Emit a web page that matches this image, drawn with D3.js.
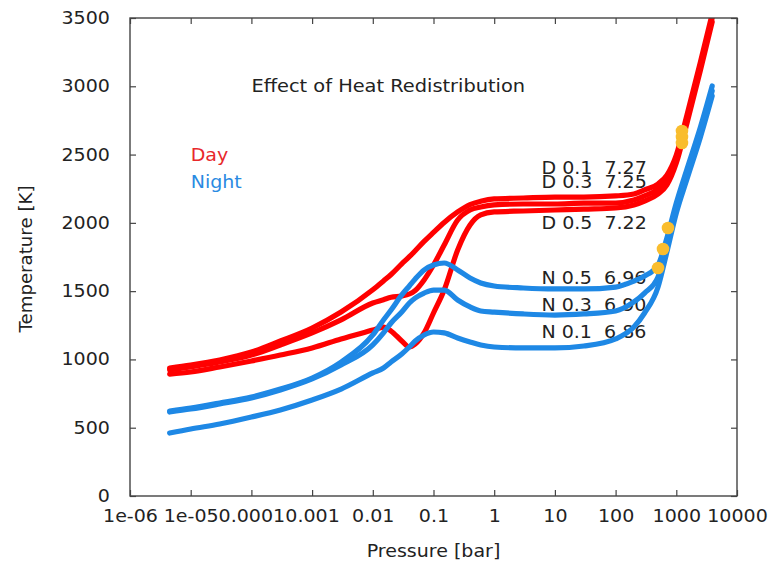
<!DOCTYPE html>
<html><head><meta charset="utf-8">
<script src="https://cdn.jsdelivr.net/npm/d3@7/dist/d3.min.js"></script>
<style>
body{margin:0;background:#fff}
svg{display:block}
text{font-family:"DejaVu Sans",sans-serif;white-space:pre}
</style>
</head><body>
<svg id="chart" width="770" height="562"></svg>
<script>
// ---------------- data ----------------
const pressure = [4.5e-6, 1e-5, 3e-5, 1e-4, 3e-4, 1e-3, 3e-3, 0.01, 0.015, 0.02, 0.03, 0.04, 0.05, 0.07, 0.1, 0.15, 0.25, 0.4, 0.6, 1, 3, 10, 30, 100, 200, 300, 500, 700, 1000, 1500, 2500, 3900];

const dayD01 = [937, 959, 996, 1054, 1135, 1230, 1347, 1510, 1575, 1622, 1700, 1752, 1796, 1864, 1930, 2003, 2080, 2134, 2158, 2175, 2182, 2189, 2189, 2197, 2211, 2241, 2285, 2350, 2497, 2790, 3178, 3529];
const dayD03 = [923, 945, 981, 1032, 1106, 1194, 1289, 1413, 1437, 1455, 1464, 1479, 1505, 1582, 1691, 1838, 2021, 2094, 2116, 2131, 2138, 2138, 2145, 2145, 2167, 2197, 2248, 2314, 2468, 2761, 3149, 3500];
const dayD05 = [893, 908, 945, 989, 1032, 1084, 1150, 1215, 1237, 1208, 1135, 1091, 1113, 1194, 1340, 1508, 1801, 1984, 2058, 2080, 2087, 2094, 2101, 2109, 2131, 2160, 2211, 2277, 2438, 2731, 3119, 3471];

const nightN05 = [622, 644, 681, 725, 783, 864, 981, 1179, 1289, 1362, 1472, 1538, 1589, 1655, 1691, 1706, 1655, 1596, 1560, 1538, 1523, 1516, 1516, 1530, 1574, 1611, 1691, 1889, 2145, 2394, 2702, 3002];
const nightN03 = [615, 637, 674, 718, 776, 857, 959, 1106, 1194, 1267, 1347, 1413, 1450, 1486, 1508, 1508, 1435, 1384, 1355, 1347, 1333, 1325, 1333, 1355, 1421, 1486, 1604, 1845, 2109, 2358, 2665, 2966];
const nightN01 = [461, 491, 527, 578, 630, 703, 783, 901, 937, 981, 1040, 1091, 1135, 1179, 1201, 1194, 1157, 1128, 1106, 1091, 1084, 1084, 1098, 1150, 1237, 1340, 1530, 1787, 2072, 2321, 2629, 2929];

const dotP = [1240, 1240, 1240, 730, 604, 500];
const dotT = [2673, 2629, 2585, 1962, 1809, 1669];

const xTicks = [1e-6, 1e-5, 1e-4, 1e-3, 1e-2, 1e-1, 1, 10, 100, 1000, 10000];
const xTickLabels = ["1e-06", "1e-05", "0.0001", "0.001", "0.01", "0.1", "1", "10", "100", "1000", "10000"];
const yTicks = [0, 500, 1000, 1500, 2000, 2500, 3000, 3500];

const curveLabels = ["D 0.1  7.27", "D 0.3  7.25", "D 0.5  7.22", "N 0.5  6.96", "N 0.3  6.90", "N 0.1  6.86"];
const curveLabelT = [2400, 2300, 2000, 1600, 1400, 1200];
const curveLabelP = 6;

const titleText = "Effect of Heat Redistribution";
const legendNames = ["Day", "Night"];

// ---------------- layout ----------------
const M = {left: 130, right: 737, top: 18, bottom: 496};
const RED = "#ff0000", BLUE = "#1e88e5", ORANGE = "#f9bd2e";
const FS = 17, SX = 1.12;

const svg = d3.select("#chart");
const x = d3.scaleLog().domain([1e-6, 1e4]).range([M.left, M.right]);
const y = d3.scaleLinear().domain([0, 3500]).range([M.bottom, M.top]);

svg.append("defs").append("clipPath").attr("id", "clip")
  .append("rect").attr("x", M.left).attr("y", M.top)
  .attr("width", M.right - M.left).attr("height", M.bottom - M.top);

function addText(px, py, str, anchor, color, sx) {
  return svg.append("text")
    .attr("transform", `translate(${px},${py}) scale(${sx || SX},1)`)
    .attr("text-anchor", anchor)
    .attr("dominant-baseline", "central")
    .attr("font-size", FS)
    .attr("fill", color)
    .text(str);
}

// annotations (under curves)
addText(x(1e-4), y(3000), titleText, "start", "#222", 1.14);
addText(x(1e-5), y(2500), legendNames[0], "start", "#e8282b");
addText(x(1e-5), y(2300), legendNames[1], "start", "#2a8ae2");
curveLabels.forEach((s, i) => addText(x(curveLabelP), y(curveLabelT[i]), s, "start", "#222"));

// curves
const line = d3.line().x(d => x(d[0])).y(d => y(d[1])).curve(d3.curveMonotoneX);
const gCurves = svg.append("g").attr("clip-path", "url(#clip)");
const series = [
  {v: dayD05, c: RED}, {v: dayD03, c: RED}, {v: dayD01, c: RED},
  {v: nightN01, c: BLUE}, {v: nightN03, c: BLUE}, {v: nightN05, c: BLUE}
];
series.forEach(s => {
  gCurves.append("path")
    .attr("d", line(pressure.map((p, i) => [p, s.v[i]])))
    .attr("fill", "none").attr("stroke", s.c)
    .attr("stroke-width", 5.2).attr("stroke-linejoin", "round").attr("stroke-linecap", "round");
});
gCurves.selectAll("circle.dot").data(dotP).enter().append("circle")
  .attr("class", "dot")
  .attr("cx", d => x(d)).attr("cy", (d, i) => y(dotT[i]))
  .attr("r", 6.3).attr("fill", ORANGE);

// axes
const AX = "#444";
const xb = svg.append("g").attr("transform", `translate(0,${M.bottom})`)
  .call(d3.axisBottom(x).tickValues(xTicks).tickFormat((d, i) => xTickLabels[i]).tickSizeInner(-6).tickSizeOuter(0).tickPadding(14));
const xt = svg.append("g").attr("transform", `translate(0,${M.top})`)
  .call(d3.axisTop(x).tickValues(xTicks).tickFormat("").tickSizeInner(-6).tickSizeOuter(0));
const yl = svg.append("g").attr("transform", `translate(${M.left},0)`)
  .call(d3.axisLeft(y).tickValues(yTicks).tickFormat(d3.format("d")).tickSizeInner(-6).tickSizeOuter(0).tickPadding(18));
const yr = svg.append("g").attr("transform", `translate(${M.right},0)`)
  .call(d3.axisRight(y).tickValues(yTicks).tickFormat("").tickSizeInner(-6).tickSizeOuter(0));
[xb, xt, yl, yr].forEach(g => {
  g.select(".domain").remove();
  g.selectAll(".tick line").attr("stroke", AX).attr("stroke-width", 1.2);
  g.selectAll(".tick text").attr("font-size", FS).attr("fill", "#222")
    .attr("font-family", "DejaVu Sans, sans-serif");
});
xb.selectAll(".tick text").attr("dy", "0.71em").attr("transform", `scale(${SX},1)`);
yl.selectAll(".tick text").attr("transform", `scale(${SX},1)`);
svg.append("rect").attr("x", M.left).attr("y", M.top)
  .attr("width", M.right - M.left).attr("height", M.bottom - M.top)
  .attr("fill", "none").attr("stroke", AX).attr("stroke-width", 1.4);

// axis titles
addText((M.left + M.right) / 2, 551, "Pressure [bar]", "middle", "#222");
svg.append("text")
  .attr("transform", `translate(26,${(M.top + M.bottom) / 2 + 2}) rotate(-90) scale(1.07,1)`)
  .attr("text-anchor", "middle").attr("dominant-baseline", "central")
  .attr("font-size", FS).attr("fill", "#222")
  .text("Temperature [K]");
</script>
</body></html>
